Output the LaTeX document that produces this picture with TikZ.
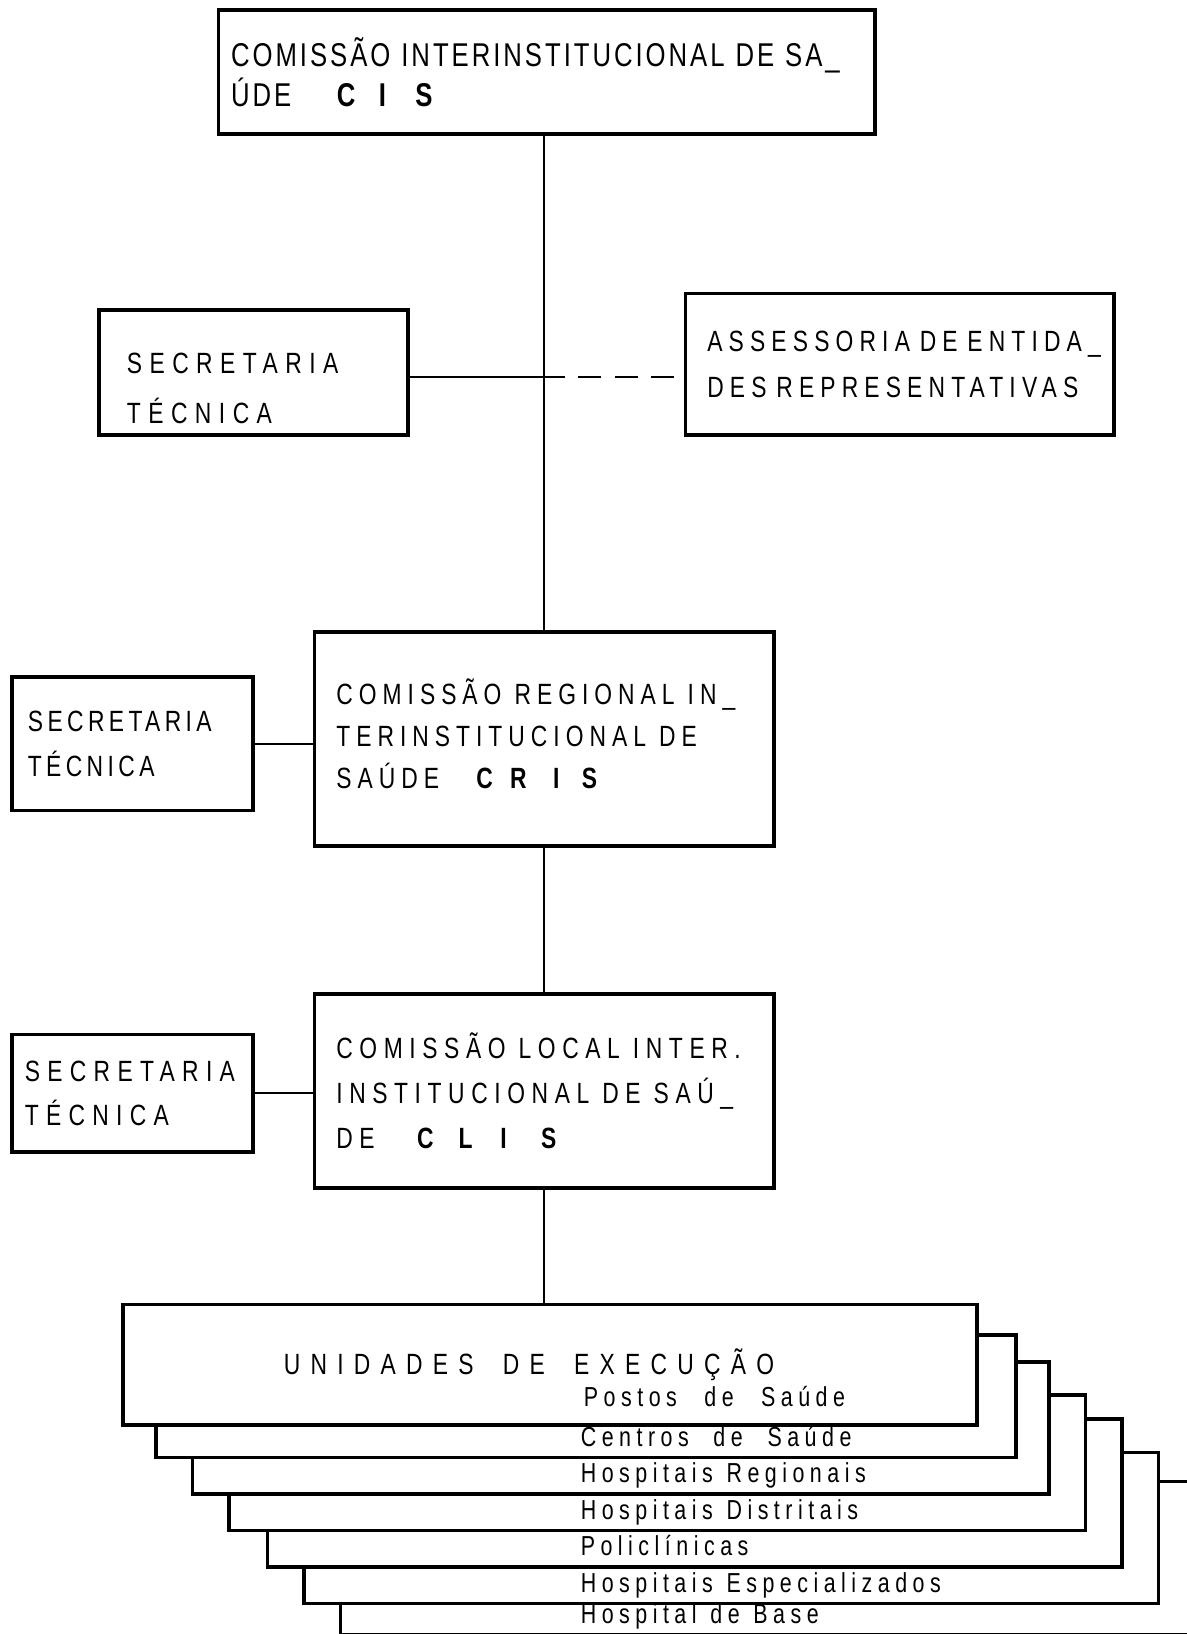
\documentclass[tikz,border=0pt]{standalone}
\usepackage{fontspec}
\setmainfont{Liberation Sans}[FakeStretch=0.78]
\newcommand{\capsfont}[3][0.6em]{\fontsize{16pt}{#2}\selectfont\addfontfeatures{LetterSpace=#3}\spaceskip=#1\relax}
\newcommand{\topfont}{\fontsize{18pt}{22pt}\selectfont\addfontfeatures{LetterSpace=9}\spaceskip=0.6em\relax}
\newcommand{\listfont}{\fontsize{15pt}{16pt}\selectfont\addfontfeatures{LetterSpace=20}\spaceskip=0.5em\relax}
\newcommand{\wgap}{\hspace{0.25cm}}
\tikzset{
  orgbox/.style={draw, line width=2pt, anchor=north west, align=left, inner ysep=0pt},
  stackbox/.style={draw, line width=2pt, fill=white, anchor=north west, inner sep=0pt},
  listlabel/.style={anchor=base west, inner sep=0pt, font=\listfont},
  link/.style={line width=1.1pt}
}
\begin{document}
\begin{tikzpicture}[x=0.02cm, y=-0.02cm]
  \clip (0,0) rectangle (1139,1568);
  % comissoes e secretarias
  \node[orgbox, minimum width=12.6cm, minimum height=2.38cm, text width=12.12cm, inner xsep=0.24cm, font=\topfont]
    (cis) at (208,8) {\mbox{COMISSÃO INTERINSTITUCIONAL DE SA\_}\\
    ÚDE\hspace{0.82cm}\textbf{C\hspace{0.45cm}I\hspace{0.56cm}S}};
  \node[orgbox, minimum width=5.94cm, minimum height=2.4cm, text width=4.86cm, inner xsep=0.54cm, text height=1cm, font={\capsfont{27pt}{25.5}}]
    (sec1) at (93,296) {SECRETARIA\\TÉCNICA};
  \node[orgbox, minimum width=8.22cm, minimum height=2.72cm, text width=7.38cm, inner xsep=0.42cm, font={\capsfont{25pt}{21}}]
    (ass) at (656,280) {\mbox{ASSESSORIA DE ENTIDA\_}\\\mbox{DES REPRESENTATIVAS}};
  \node[orgbox, minimum width=8.82cm, minimum height=4.1cm, text width=7.98cm, inner xsep=0.42cm, text depth=1.84cm, font={\capsfont{23pt}{20.5}}]
    (cris) at (300,605) {\mbox{COMISSÃO\wgap REGIONAL\wgap IN\_}\\\mbox{TERINSTITUCIONAL\wgap DE}\\
    SAÚDE\hspace{0.6cm}\textbf{C\hspace{0.33cm}R\hspace{0.51cm}I\hspace{0.43cm}S}};
  \node[orgbox, minimum width=4.62cm, minimum height=2.56cm, text width=4.02cm, inner xsep=0.3cm, font={\capsfont{24.5pt}{15}}]
    (sec2) at (10,648) {SECRETARIA\\TÉCNICA};
  \node[orgbox, minimum width=8.82cm, minimum height=3.72cm, text width=7.98cm, inner xsep=0.42cm, font={\capsfont{24.5pt}{22.5}}]
    (clis) at (300,952) {\mbox{COMISSÃO\wgap LOCAL\wgap INTER.}\\\mbox{INSTITUCIONAL\wgap DE\wgap SAÚ\_}\\
    DE\hspace{0.69cm}\textbf{C\hspace{0.48cm}L\hspace{0.53cm}I\hspace{0.66cm}S}};
  \node[orgbox, minimum width=4.62cm, minimum height=2.26cm, text width=4.14cm, inner xsep=0.24cm, font={\capsfont{24pt}{25}}]
    (sec3) at (10,991) {SECRETARIA\\TÉCNICA};
  \coordinate (j1) at (520,362);
  \draw[link] (cis.south -| cris.north) -- (cris.north);
  \draw[link] (j1 -| sec1.east) -- (j1);
  \draw[link, dash pattern=on 0.44cm off 0.26cm] (j1) -- (j1 -| ass.west);
  \draw[link] (sec2.east) -- (sec2.east -| cris.west);
  \draw[link] (cris.south) -- (clis.north);
  \draw[link] (sec3.east) -- (sec3.east -| clis.west);
  % unidades de execucao, de tras para a frente
  \foreach \i/\l/\t/\r/\b/\txt in {7/325/1420/1150/1567/Hospital de Base,
      6/290/1392/1110/1537/Hospitais Especializados, 5/255/1360/1075/1502/Policlínicas,
      4/218/1337/1040/1467/Hospitais Distritais, 3/183/1305/1005/1432/Hospitais Regionais,
      2/148/1279/973/1397/{\spaceskip=0.9em Centros de Saúde}}{
    \node[stackbox, minimum width=(\r-\l)*0.02cm, minimum height=(\b-\t)*0.02cm] (u\i) at (\l,\t) {};
    \node[listlabel] (l\i) at (557,\b-9) {\txt};
  }
  \node[stackbox, minimum width=16.4cm, minimum height=2.32cm] (u1) at (116,1250) {};
  \node[anchor=base west, inner sep=0pt, font={\capsfont[1em]{20pt}{35}}] (unid) at (272,1319) {UNIDADES DE EXECUÇÃO};
  \node[listlabel] (l1) at (560,1350) {\spaceskip=1em Postos de Saúde};
  \draw[link] (clis.south) -- (clis.south |- u1.north);
\end{tikzpicture}
\end{document}
